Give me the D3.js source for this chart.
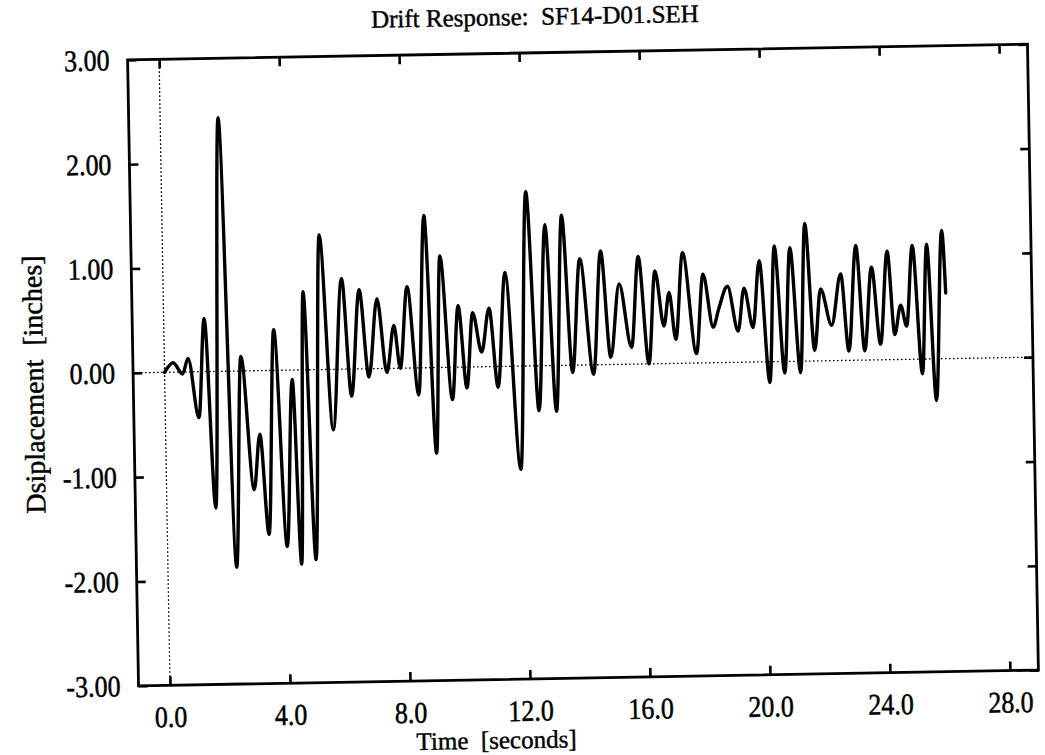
<!DOCTYPE html>
<html>
<head>
<meta charset="utf-8">
<script src="https://cdn.jsdelivr.net/npm/d3@7"></script>
<style>
  html, body { margin: 0; padding: 0; background: #fff; }
  svg text { font-family: "Liberation Serif", "Times New Roman", serif; fill: #000; white-space: pre;
    stroke: #000; stroke-width: 0.45px; }
  svg .tick text { transform-box: fill-box; transform-origin: center; transform: scaleY(1.15); }
</style>
</head>
<body>
<svg id="chart" width="1045" height="755"></svg>
<script>
// Drift response time history (turning points of the trace)
const timeSec = [0, 0.29, 0.6, 0.79, 1.12, 1.35, 1.63, 1.93, 2.29, 2.55, 2.92, 3.14, 3.39, 3.66, 3.99, 4.25,
  4.46, 4.66, 4.94, 5.23, 5.59, 5.95, 6.22, 6.53, 6.81, 7.12, 7.41, 7.67, 7.86, 8.13, 8.46, 8.73, 9.02,
  9.24, 9.58, 9.82, 10.07, 10.30, 10.58, 10.85, 11.11, 11.40, 11.82, 12.14, 12.46, 12.76, 13.04, 13.32,
  13.60, 13.90, 14.30, 14.60, 14.88, 15.20, 15.58, 15.85, 16.15, 16.40, 16.67, 16.86, 17.06, 17.33, 17.74,
  18.00, 18.31, 18.50, 18.81, 19.14, 19.36, 19.64, 19.88, 20.17, 20.39, 20.67, 20.91, 21.20, 21.42, 21.68,
  21.91, 22.26, 22.59, 22.82, 23.11, 23.35, 23.62, 23.88, 24.15, 24.36, 24.57, 24.76, 24.99, 25.26, 25.47,
  25.71, 25.98, 26.08];
const displacement = [0, 0.09, -0.02, 0.13, -0.44, 0.51, -1.31, 2.43, -1.88, 0.14, -1.14, -0.61, -1.57, 0.39,
  -1.69, -0.09, -1.86, 0.75, -1.82, 1.29, -0.58, 0.87, -0.26, 0.76, -0.08, 0.67, -0.04, 0.41, 0.0, 0.78,
  -0.26, 1.46, -0.82, 1.07, -0.31, 0.59, -0.2, 0.52, 0.14, 0.56, -0.2, 0.90, -0.99, 1.67, -0.43, 1.35,
  -0.44, 1.44, -0.07, 1.02, -0.09, 1.09, 0.07, 0.77, 0.16, 1.03, 0.0, 0.89, 0.36, 0.68, 0.23, 1.06, 0.09,
  0.85, 0.34, 0.51, 0.73, 0.30, 0.71, 0.33, 0.97, -0.20, 1.11, -0.11, 1.09, -0.11, 1.32, 0.10, 0.69, 0.34,
  0.83, 0.09, 1.10, 0.09, 0.89, 0.15, 1.04, 0.24, 0.52, 0.32, 1.09, -0.14, 1.10, -0.40, 1.23, 0.63];

const xTicks = [0, 4, 8, 12, 16, 20, 24, 28];
const xTickLabels = ["0.0", "4.0", "8.0", "12.0", "16.0", "20.0", "24.0", "28.0"];
const yTicks = [-3, -2, -1, 0, 1, 2, 3];
const yTickLabels = ["-3.00", "-2.00", "-1.00", "0.00", "1.00", "2.00", "3.00"];

const titleText = "Drift Response:  SF14-D01.SEH";
const xTitle = "Time  [seconds]";
const yTitle = "Dsiplacement  [inches]";

// Plot frame
const frameL = 133, frameR = 1033, frameT = 52, frameB = 678;

const x = d3.scaleLinear().domain([-1.05, 28.95]).range([frameL, frameR]);
const y = d3.scaleLinear().domain([-3, 3]).range([frameB, frameT]);

const svg = d3.select("#chart");
svg.append("rect").attr("width", 1045).attr("height", 755).attr("fill", "#fff");

// whole sheet sits slightly tilted
const g = svg.append("g").attr("transform", "rotate(-1, 583, 365)");

// zero reference lines
g.append("line")
  .attr("x1", frameL).attr("x2", frameR).attr("y1", y(0)).attr("y2", y(0))
  .attr("stroke", "#000").attr("stroke-width", 1.3).attr("stroke-dasharray", "1.6 2.4");
g.append("line")
  .attr("x1", x(0)).attr("x2", x(0)).attr("y1", frameT).attr("y2", frameB)
  .attr("stroke", "#000").attr("stroke-width", 1.3).attr("stroke-dasharray", "1.6 2.4");

// trace
const data = timeSec.map((t, i) => ({ t, v: displacement[i] }));
const line = d3.line().x(d => x(d.t)).y(d => y(d.v)).curve(d3.curveMonotoneX);
g.append("path").datum(data)
  .attr("d", line)
  .attr("fill", "none").attr("stroke", "#000").attr("stroke-width", 3.4)
  .attr("stroke-linejoin", "round").attr("stroke-linecap", "round");

// axes with inward ticks
function styleAxis(sel, fontSize) {
  sel.select(".domain").remove();
  sel.selectAll(".tick line").attr("stroke", "#000").attr("stroke-width", 2.6);
  sel.selectAll(".tick text").attr("font-size", fontSize).attr("fill", "#000")
    .style("font-family", '"Liberation Serif", serif');
  sel.attr("font-family", null).attr("font-size", null);
}

g.append("g").attr("transform", `translate(0,${frameB})`)
  .call(d3.axisBottom(x).tickValues(xTicks).tickFormat((d, i) => xTickLabels[i])
    .tickSizeInner(-9).tickSizeOuter(0).tickPadding(22))
  .call(s => styleAxis(s, 26));

g.append("g").attr("transform", `translate(0,${frameT})`)
  .call(d3.axisTop(x).tickValues(xTicks).tickFormat("").tickSizeInner(-9).tickSizeOuter(0))
  .call(s => styleAxis(s, 26));

g.append("g").attr("transform", `translate(${frameL},0)`)
  .call(d3.axisLeft(y).tickValues(yTicks).tickFormat((d, i) => yTickLabels[i])
    .tickSizeInner(-9).tickSizeOuter(0).tickPadding(18))
  .call(s => styleAxis(s, 26));

g.append("g").attr("transform", `translate(${frameR},0)`)
  .call(d3.axisRight(y).tickValues(yTicks).tickFormat("").tickSizeInner(-9).tickSizeOuter(0))
  .call(s => styleAxis(s, 26));

// frame
g.append("rect")
  .attr("x", frameL).attr("y", frameT).attr("width", frameR - frameL).attr("height", frameB - frameT)
  .attr("fill", "none").attr("stroke", "#000").attr("stroke-width", 2.8);

// titles
g.append("text").attr("x", 541).attr("y", 24).attr("text-anchor", "middle")
  .attr("font-size", 25).text(titleText);
g.append("text").attr("x", 490).attr("y", 747).attr("text-anchor", "middle")
  .attr("font-size", 25).text(xTitle);
g.append("text").attr("transform", "translate(43,375) rotate(-90)").attr("text-anchor", "middle")
  .attr("font-size", 28).text(yTitle);
</script>
</body>
</html>
